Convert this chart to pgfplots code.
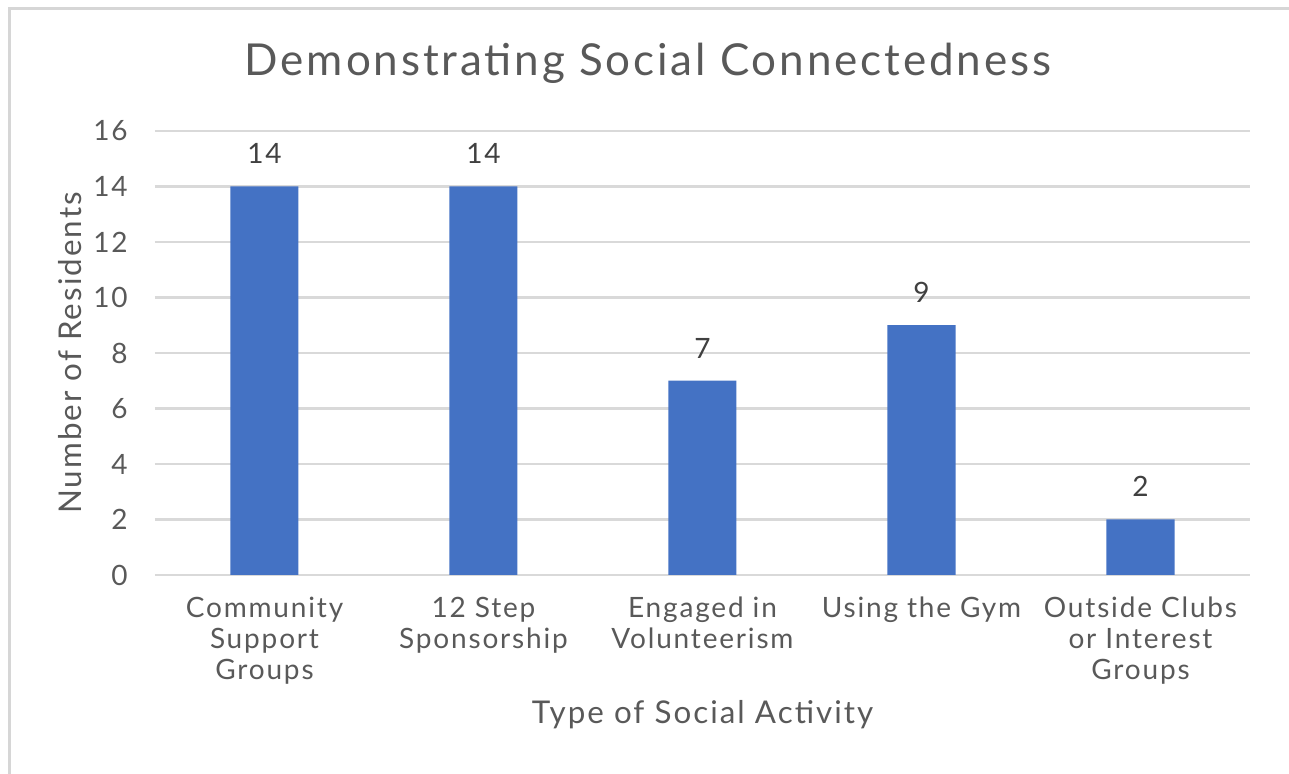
\documentclass[border=0pt]{standalone}
\usepackage{pgfplots}
\pgfplotsset{compat=1.18}
\usepackage{fontspec}
\setmainfont{Lato}[LetterSpace=6.5]
\definecolor{barblue}{HTML}{4472C4}
\definecolor{txtgray}{HTML}{595959}
\definecolor{lblgray}{HTML}{404040}
\definecolor{gridgray}{HTML}{D9D9D9}
\definecolor{framegray}{HTML}{D6D6D6}
\begin{document}
\begin{tikzpicture}
% picture is sized in pixels of the reference: 1px = 0.75pt, origin at the axis' lower left corner
\useasboundingbox (-116.25pt,-149.25pt) rectangle (850.5pt,431.25pt);
\draw[framegray, line width=2.25pt] (-108.75pt,-150pt) -- (-108.75pt,424.5pt) -- (852pt,424.5pt);
\begin{axis}[
    at={(0pt,0pt)}, anchor=south west,
    scale only axis,
    width=821.25pt, height=333pt,
    ybar, bar width=51pt,
    xmin=-0.5, xmax=4.5,
    ymin=0, ymax=16,
    ytick={0,2,...,16},
    xtick={0,1,2,3,4},
    xticklabels={{Community\\Support\\Groups},{12 Step\\Sponsorship},{Engaged in\\Volunteerism},{Using the Gym},{Outside Clubs\\or Interest\\Groups}},
    major tick length=0pt,
    axis line style={draw=none},
    ymajorgrids,
    major grid style={gridgray, line width=1.8pt},
    /pgf/number format/assume math mode=true,
    tick label style={font=\fontsize{21}{23.25}\selectfont, text=txtgray, inner sep=0pt},
    yticklabel style={anchor=east, xshift=-20.25pt},
    xticklabel style={anchor=north, align=center, yshift=-16.5pt},
    title={Demonstrating Social Connectedness},
    every axis title shift=0pt,
    title style={font=\fontsize{33}{36}\selectfont, text=txtgray, anchor=base, inner sep=0pt,
      at={(axis description cs:0.4502,1.126)}},
    xlabel={Type of Social Activity},
    xlabel style={font=\fontsize{23.5}{26}\selectfont, text=txtgray, anchor=center, inner sep=0pt,
      at={(axis description cs:0.5,-0.315)}},
    ylabel={Number of Residents},
    ylabel style={font=\fontsize{23.5}{26}\selectfont, text=txtgray, anchor=center, inner sep=0pt,
      at={(axis description cs:-0.0776,0.5)}},
    nodes near coords,
    every node near coord/.append style={font=\fontsize{21}{23.25}\selectfont, text=lblgray,
      anchor=base, inner sep=0pt, yshift=17pt},
]
\addplot[fill=barblue, draw=none] coordinates {(0,14) (1,14) (2,7) (3,9) (4,2)};
\end{axis}
\end{tikzpicture}
\end{document}
